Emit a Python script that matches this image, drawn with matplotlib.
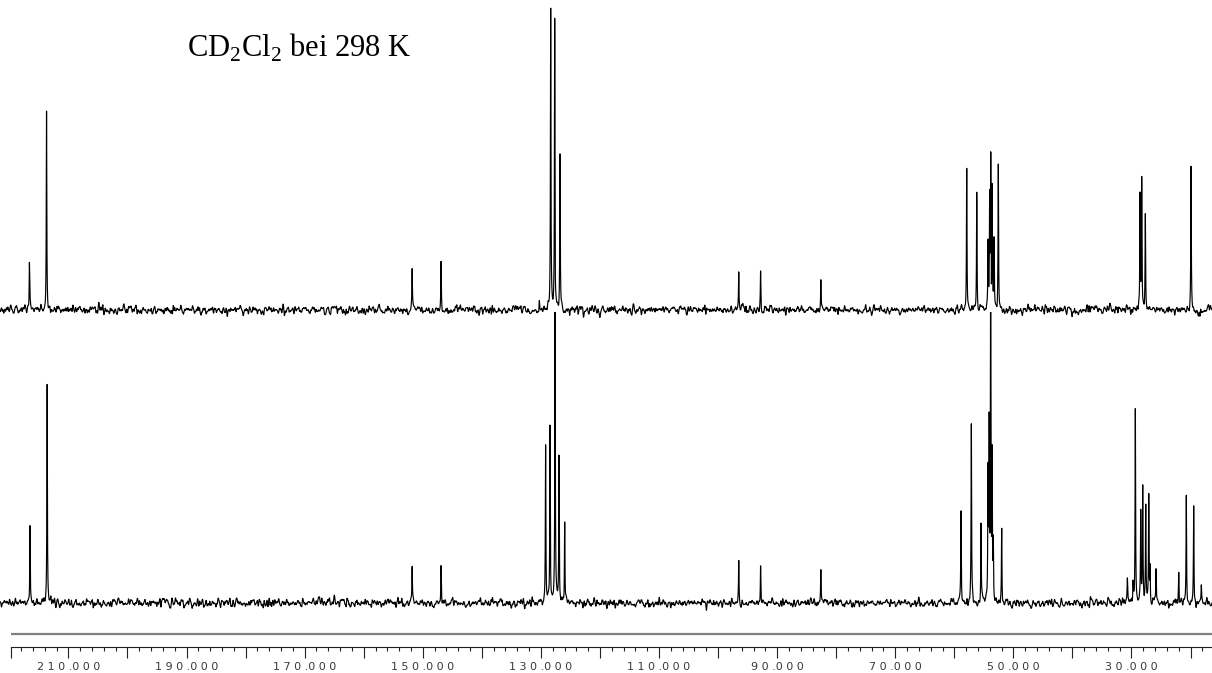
import numpy as np
import matplotlib
matplotlib.use("Agg")
import matplotlib.pyplot as plt
from matplotlib.ticker import FixedLocator, FuncFormatter

plt.rcParams["mathtext.fontset"] = "custom"
plt.rcParams["mathtext.rm"] = "Liberation Serif"

# 13C spectrum, upper trace: shift (ppm) and peak intensity
top_ppm = [216.6, 213.7, 151.8, 146.9, 130.27, 128.34, 127.66, 127.56, 126.76,
           96.5, 92.8, 82.6, 57.9, 56.2,
           54.29, 54.02, 53.83, 53.73, 53.61, 53.27, 52.55,
           28.56, 28.27, 27.66, 19.92]
top_int = [48, 200, 38, 46, 10, 301, 291, -22, 155,
           40, 41, 33, 141, 119,
           65, 107, 149, -22, 123, 73, 142,
           114, 129, 96, 143]

# lower trace
bot_ppm = [216.5, 213.6, 151.8, 146.9, 129.2, 128.45, 127.6, 126.93, 125.97,
           96.5, 92.8, 82.6, 58.87, 57.12, 55.48,
           54.29, 54.1, 53.85, 53.6, 53.4, 51.98,
           30.7, 29.74, 29.35, 28.44, 28.1, 27.59, 27.08, 26.86, 25.85,
           22.0, 20.72, 19.47, 18.18]
bot_int = [78, 224, 37, 36, 157, 175, 320, 150, 82,
           45, 41, 34, 91, 179, 81,
           118, 165, 330, 140, 57, 73,
           23, 20, 193, 93, 113, 97, 107, 35, 34,
           31, 106, 95, 18]

# chemical shift scale
major_ticks = list(range(210, 10, -10))
minor_ticks = list(range(218, 16, -2))
label_start = 210
label_step = 20
scale_left, scale_right = 221.58, 16.37
axis_start = 219.75

ppm = np.linspace(scale_left, scale_right, 20000)
half_width = 0.05


def spectrum(shifts, heights, seed):
    y = np.zeros_like(ppm)
    for p, h in zip(shifts, heights):
        y += h * half_width**2 / ((ppm - p) ** 2 + half_width**2)
    # baseline noise of the acquisition
    rng = np.random.default_rng(seed)
    raw = rng.normal(0.0, 1.0, ppm.size)
    k = np.exp(-0.5 * (np.arange(-24, 25) / 6.0) ** 2)
    smooth = np.convolve(raw, k / k.sum(), mode="same")
    smooth *= 2.0 / smooth.std()
    return y + smooth


W, H = 1212, 673
fig = plt.figure(figsize=(W / 100, H / 100), dpi=100)


def rows(top, bottom):
    return [0, 1 - bottom / H, 1, (bottom - top) / H]


ax_top = fig.add_axes(rows(0, 340))
ax_top.plot(ppm, spectrum(top_ppm, top_int, 3), color="black", lw=0.85)
ax_top.set_xlim(scale_left, scale_right)
ax_top.set_ylim(-30, 310)
ax_top.axis("off")

ax_bot = fig.add_axes(rows(312, 620))
ax_bot.plot(ppm, spectrum(bot_ppm, bot_int, 11), color="black", lw=0.85)
ax_bot.set_xlim(scale_left, scale_right)
ax_bot.set_ylim(-17, 291)
ax_bot.axis("off")

# ppm axis with separator line
ax_sc = fig.add_axes(rows(625, 647))
ax_sc.set_xlim(scale_left, scale_right)
ax_sc.set_ylim(0, 1)
ax_sc.patch.set_visible(False)
for s in ("top", "left", "right"):
    ax_sc.spines[s].set_visible(False)
ax_sc.spines["bottom"].set_bounds(axis_start, scale_right)
ax_sc.spines["bottom"].set_color("#222222")
ax_sc.spines["bottom"].set_linewidth(0.8)
ax_sc.plot([axis_start, scale_right], [0.59, 0.59], color="#808080", lw=1.6,
           solid_capstyle="butt")
ax_sc.set_yticks([])
ax_sc.xaxis.set_major_locator(FixedLocator([axis_start] + major_ticks))
ax_sc.xaxis.set_minor_locator(FixedLocator(minor_ticks))


def fmt(v, pos):
    iv = int(round(v))
    if abs(v - iv) > 1e-6 or (label_start - iv) % label_step:
        return ""
    return " ".join(str(iv)) + " .0 0 0"


ax_sc.xaxis.set_major_formatter(FuncFormatter(fmt))
ax_sc.tick_params(axis="x", which="major", direction="out", length=8,
                  width=0.8, color="#222222", pad=3, labelsize=8,
                  labelcolor="#3a3a3a")
ax_sc.tick_params(axis="x", which="minor", direction="out", length=3,
                  width=0.8, color="#222222")

fig.text(187 / W, 1 - 57 / H, r"CD$_\mathregular{2}$Cl$_\mathregular{2}$ bei 298 K",
         family="Liberation Serif", fontsize=22, ha="left", va="baseline")

fig.savefig("out.png", dpi=100)
